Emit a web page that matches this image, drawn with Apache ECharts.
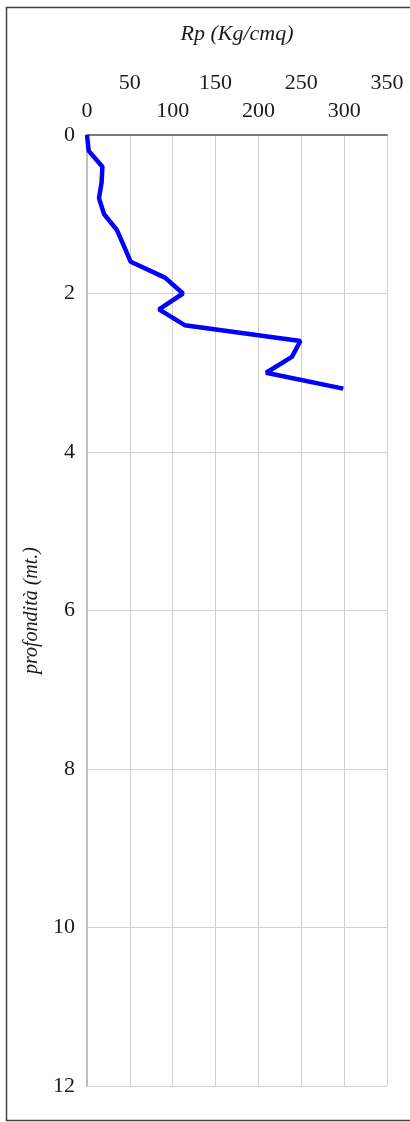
<!DOCTYPE html>
<html>
<head>
<meta charset="utf-8">
<script src="https://cdn.jsdelivr.net/npm/echarts@6/dist/echarts.min.js"></script>
<style>
html,body{margin:0;padding:0;background:#fff;}
#c{width:410px;height:1122px;}
</style>
</head>
<body>
<div id="c"></div>
<script>
const depths = [0, 0.2, 0.4, 0.6, 0.8, 1.0, 1.2, 1.4, 1.6, 1.8, 2.0, 2.2, 2.4, 2.6, 2.8, 3.0, 3.2];
const rpValues = [0, 2, 18, 17, 14, 20, 35, 43, 51, 91, 112, 84, 114, 249, 239, 209, 299];
const xTicks = [0, 50, 100, 150, 200, 250, 300, 350];
const yTicks = [0, 2, 4, 6, 8, 10, 12];
const xTitle = 'Rp (Kg/cmq)';
const yTitle = 'profondità (mt.)';

const FONT = 'Liberation Serif';
const chart = echarts.init(document.getElementById('c'), null, {renderer: 'canvas'});
const data = depths.map((d, i) => [rpValues[i], d]);

chart.setOption({
  animation: false,
  backgroundColor: '#fff',
  grid: {left: 87, right: 23, top: 135, bottom: 36, containLabel: false},
  graphic: [{
    type: 'rect',
    shape: {x: 6.5, y: 7.5, width: 420, height: 1113},
    style: {fill: 'none', stroke: '#404040', lineWidth: 1.5},
    silent: true
  }],
  xAxis: {
    type: 'value', position: 'top',
    min: xTicks[0], max: xTicks[xTicks.length - 1], interval: 50,
    name: xTitle, nameLocation: 'middle', nameGap: 90,
    nameTextStyle: {fontFamily: FONT, fontStyle: 'italic', fontSize: 22, color: '#1a1a1a'},
    axisLine: {show: true, lineStyle: {color: '#7a7a7a', width: 2}},
    axisTick: {show: false},
    splitLine: {show: true, lineStyle: {color: '#d0d0d0', width: 1}},
    axisLabel: {
      margin: 13,
      fontFamily: FONT, fontSize: 22, color: '#1a1a1a',
      formatter: function (v) {
        const idx = xTicks.indexOf(v);
        return idx % 2 === 1 ? '{up|' + v + '}' : '{dn|' + v + '}';
      },
      rich: {
        up: {fontFamily: FONT, fontSize: 22, color: '#1a1a1a', padding: [0, 0, 28, 0]},
        dn: {fontFamily: FONT, fontSize: 22, color: '#1a1a1a'}
      }
    }
  },
  yAxis: {
    type: 'value', inverse: true,
    min: yTicks[0], max: yTicks[yTicks.length - 1], interval: 2,
    name: yTitle, nameLocation: 'middle', nameGap: 45,
    nameTextStyle: {fontFamily: FONT, fontStyle: 'italic', fontSize: 20, color: '#1a1a1a'},
    axisLine: {show: true, lineStyle: {color: '#bfbfbf', width: 2}},
    axisTick: {show: false},
    splitLine: {show: true, lineStyle: {color: '#d0d0d0', width: 1}},
    axisLabel: {margin: 12, fontFamily: FONT, fontSize: 22, color: '#1a1a1a'}
  },
  series: [{
    type: 'line',
    data: data,
    showSymbol: false,
    lineStyle: {color: '#0000ff', width: 4.5},
    itemStyle: {color: '#0000ff'},
    z: 10
  }]
});
</script>
</body>
</html>
